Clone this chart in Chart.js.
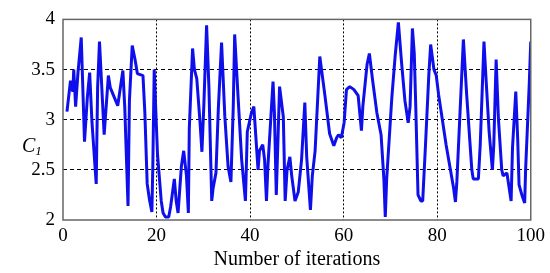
<!DOCTYPE html>
<html>
<head>
  <title>C1 vs iterations</title>
  <style>
    body { margin: 0; background: #fff; }
    #chart { display: block; }
  </style>
  <script src="https://cdn.jsdelivr.net/npm/chart.js"></script>
</head>
<body>
  <canvas id="chart" width="550" height="273"></canvas>
  <script>
    // turning points of the curve
    const iterations = [
      0.85, 1.6, 2.1, 2.3, 2.7, 3.2, 3.9, 4.6, 5.2, 5.7, 6.2, 7.1, 7.4, 7.8, 8.8, 9.7,
      10.1, 11.7, 12.8, 13.2, 13.9, 14.2, 14.8, 15.4, 15.9, 17.1, 17.5, 18.0, 18.5, 19.0, 19.2, 19.5,
      20.2, 21.0, 21.4, 21.9, 22.6, 23.0, 23.8, 24.2, 24.6, 25.3, 25.8, 26.4, 26.8, 27.0, 27.7, 28.1,
      28.6, 29.3, 29.7, 30.1, 30.7, 31.2, 31.8, 32.1, 32.7, 33.2, 33.9, 34.6, 35.3, 35.9, 36.4, 36.7,
      37.4, 38.2, 39.0, 39.4, 40.3, 40.8, 41.7, 42.0, 42.7, 43.1, 43.5, 43.8, 44.9, 45.2, 45.6, 46.3,
      47.1, 47.5, 47.9, 48.5, 48.9, 49.6, 50.3, 51.0, 51.7, 52.1, 52.9, 53.3, 53.9, 54.9, 56.0, 57.0,
      57.9, 58.5, 58.9, 59.5, 60.1, 60.6, 61.3, 62.2, 63.1, 63.8, 64.1, 65.0, 65.5, 66.2, 67.1, 68.0,
      68.6, 68.9, 69.2, 70.3, 71.0, 71.7, 72.4, 73.1, 73.8, 74.2, 74.7, 75.1, 75.4, 75.9, 76.5, 76.9,
      77.5, 78.2, 78.6, 79.3, 79.8, 80.3, 81.9, 83.5, 83.9, 84.2, 85.3, 85.6, 86.3, 87.4, 87.7, 88.8,
      89.2, 90.0, 90.4, 91.1, 91.8, 92.1, 92.6, 93.1, 93.8, 94.1, 94.9, 95.8, 96.1, 96.8, 97.2, 97.5,
      98.1, 98.7, 98.9, 99.7, 100
    ];
    const c1Values = [
      3.08, 3.39, 3.28, 3.5, 3.13, 3.47, 3.82, 2.78, 3.22, 3.47, 2.97, 2.36, 3.32, 3.78, 2.85, 3.44,
      3.32, 3.14, 3.49, 3.13, 2.14, 3.19, 3.74, 3.6, 3.46, 3.44, 3.07, 2.36, 2.2, 2.08, 2.53, 3.5,
      2.66, 2.19, 2.07, 2.03, 2.03, 2.13, 2.41, 2.19, 2.07, 2.53, 2.69, 2.44, 2.07, 2.91, 3.71, 3.5,
      3.41, 2.97, 2.68, 3.13, 3.94, 3.32, 2.19, 2.32, 2.47, 3.1, 3.77, 3.03, 2.53, 2.38, 3.13, 3.85,
      3.25, 2.6, 2.19, 2.88, 3.07, 3.13, 2.5, 2.69, 2.75, 2.6, 2.19, 2.53, 3.38, 3.07, 2.25, 3.33,
      3.03, 2.19, 2.5, 2.63, 2.44, 2.19, 2.28, 2.6, 3.17, 2.63, 2.1, 2.44, 2.69, 3.63, 3.24, 2.86,
      2.74, 2.82, 2.85, 2.82, 2.97, 3.3, 3.33, 3.3, 3.24, 2.89, 3.13, 3.55, 3.66, 3.39, 3.07, 2.85,
      2.41, 2.03, 2.41, 3.22, 3.63, 3.97, 3.56, 3.19, 2.97, 3.13, 3.91, 3.66, 3.16, 2.25, 2.19, 2.19,
      2.75, 3.44, 3.75, 3.5, 3.44, 3.25, 2.75, 2.32, 2.18, 2.38, 3.5, 3.8, 3.25, 2.5, 2.41, 2.41,
      2.75, 3.78, 3.44, 2.88, 2.5, 2.75, 3.6, 3.0, 2.5, 2.44, 2.47, 2.19, 2.72, 3.28, 2.82, 2.35,
      2.25, 2.17, 2.5, 3.38, 3.78
    ];
    const xTickValues = [0, 20, 40, 60, 80, 100];
    const yTickValues = [2, 2.5, 3, 3.5, 4];

    const serif = '"Liberation Serif", "Times New Roman", serif';

    // box round the plot area
    const frame = {
      id: 'frame',
      afterDatasetsDraw(chart) {
        const a = chart.chartArea, ctx = chart.ctx;
        ctx.save();
        ctx.strokeStyle = '#666';
        ctx.lineWidth = 1.5;
        ctx.strokeRect(a.left, a.top, a.right - a.left, a.bottom - a.top);
        ctx.restore();
      }
    };

    // horizontal "C1" label with subscript
    const yLabel = {
      id: 'yLabel',
      afterDraw(chart) {
        const ctx = chart.ctx;
        const y = chart.scales.y.getPixelForValue(2.75);
        ctx.save();
        ctx.fillStyle = '#000';
        ctx.textBaseline = 'alphabetic';
        ctx.font = 'italic 20px ' + serif;
        ctx.fillText('C', 22, y + 7);
        const w = ctx.measureText('C').width;
        ctx.font = 'italic 13px ' + serif;
        ctx.fillText('1', 22 + w, y + 10);
        ctx.restore();
      }
    };

    new Chart(document.getElementById('chart'), {
      type: 'line',
      data: {
        datasets: [{
          data: iterations.map((x, i) => ({ x: x, y: c1Values[i] })),
          borderColor: 'rgb(15, 15, 235)',
          borderWidth: 3,
          borderJoinStyle: 'bevel',
          pointRadius: 0,
          tension: 0,
          fill: false
        }]
      },
      options: {
        responsive: false,
        animation: false,
        layout: { padding: { left: 0, right: 16, top: 7, bottom: 0 } },
        plugins: { legend: { display: false }, tooltip: { enabled: false } },
        scales: {
          x: {
            type: 'linear',
            min: 0,
            max: 100,
            afterBuildTicks: s => { s.ticks = xTickValues.map(v => ({ value: v })); },
            afterFit: s => { s.height = 53; },
            border: { display: false, dash: [2, 2] },
            grid: {
              drawTicks: false,
              color: c => (c.tick && c.tick.value > 0 && c.tick.value < 100) ? '#000' : 'transparent',
              lineWidth: 1
            },
            ticks: { color: '#000', padding: 5, maxRotation: 0, callback: v => String(v), font: { family: serif, size: 19 } },
            title: {
              display: true,
              text: 'Number of iterations',
              color: '#000',
              padding: { top: 0, bottom: 1 },
              font: { family: serif, size: 20 }
            }
          },
          y: {
            min: 2,
            max: 4,
            afterBuildTicks: s => { s.ticks = yTickValues.map(v => ({ value: v })); },
            afterFit: s => { s.width = 63; },
            border: { display: false, dash: [4, 3] },
            grid: {
              drawTicks: false,
              color: c => (c.tick && c.tick.value > 2 && c.tick.value < 4) ? '#000' : 'transparent',
              lineWidth: 1
            },
            ticks: { color: '#000', padding: 8, callback: v => String(v), font: { family: serif, size: 19 } }
          }
        }
      },
      plugins: [frame, yLabel]
    });
  </script>
</body>
</html>
